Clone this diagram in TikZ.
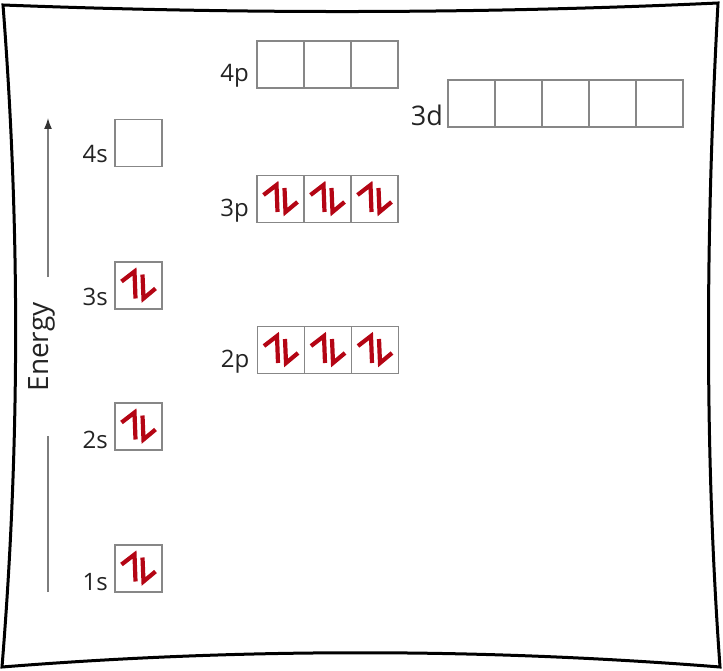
\documentclass[tikz,border=0pt]{standalone}
\usepackage{fontspec}
\setmainfont{Open Sans}
\usetikzlibrary{positioning,calc,arrows.meta}

\definecolor{boxgray}{RGB}{135,135,135}
\definecolor{axisgray}{RGB}{125,125,125}
\definecolor{spinred}{RGB}{180,5,20}
\definecolor{textgray}{RGB}{35,35,35}

\newcommand{\spinpair}[1]{
    \draw[spin,shift={(#1.center)}] (-17,-4) -- (-4,-14) -- (-3,13);
    \draw[spin,shift={(#1.center)}] (4,-11) -- (5,13) -- (17,3);
}

\begin{document}
\begin{tikzpicture}[x=1pt, y=-1pt]
        \tikzstyle{orbital}=[draw=boxgray,line width=1.5pt,minimum size=47pt,inner sep=0pt,outer sep=0pt]
        \tikzstyle{sublabel}=[text=textgray,inner sep=0pt,anchor=base east,font=\fontsize{24}{30}\selectfont]
        \tikzstyle{spin}=[draw=spinred,line width=4.2pt,line join=miter]
        \tikzstyle{axis}=[draw=axisgray,line width=1.5pt]

        \useasboundingbox (0,0) rectangle (723,671);
        \draw[line width=3pt] (3,5) .. controls (240,14) and (480,14) .. (718,3)
            .. controls (706,225) and (704,445) .. (720,667)
            .. controls (480,648) and (240,648) .. (2,667)
            .. controls (20,445) and (20,225) .. cycle;

        % s orbitals
        \node[orbital] (s1) at (138.5,568.5) {};
        \node[orbital] (s2) at (138.5,426.5) {};
        \node[orbital] (s3) at (138.5,285.5) {};
        \node[orbital] (s4) at (138.5,143) {};

        % p orbitals
        \node[orbital] (p2a) at (281,350) {};
        \node[orbital] (p2b) [right=0pt of p2a] {};
        \node[orbital] (p2c) [right=0pt of p2b] {};
        \node[orbital] (p3a) at (280.5,199) {};
        \node[orbital] (p3b) [right=0pt of p3a] {};
        \node[orbital] (p3c) [right=0pt of p3b] {};
        \node[orbital] (p4a) at (280.5,64.5) {};
        \node[orbital] (p4b) [right=0pt of p4a] {};
        \node[orbital] (p4c) [right=0pt of p4b] {};

        % d orbitals
        \node[orbital] (d3a) at (471.5,103.5) {};
        \node[orbital] (d3b) [right=0pt of d3a] {};
        \node[orbital] (d3c) [right=0pt of d3b] {};
        \node[orbital] (d3d) [right=0pt of d3c] {};
        \node[orbital] (d3e) [right=0pt of d3d] {};

        \node[sublabel] (l1s) at ($(s1.south west)+(-7,-2)$) {1s};
        \node[sublabel] (l2s) at ($(s2.south west)+(-7,-2)$) {2s};
        \node[sublabel] (l3s) at ($(s3.south west)+(-7,-4)$) {3s};
        \node[sublabel] (l4s) at ($(s4.south west)+(-7,-4)$) {4s};
        \node[sublabel] (l2p) at ($(p2a.south west)+(-8,-6)$) {2p};
        \node[sublabel] (l3p) at ($(p3a.south west)+(-8,-6)$) {3p};
        \node[sublabel] (l4p) at ($(p4a.south west)+(-8,-6)$) {4p};
        \node[sublabel,font=\fontsize{27}{32}\selectfont] (l3d) at ($(d3a.south west)+(-5,-1)$) {3d};

        \spinpair{s1}
        \spinpair{s2}
        \spinpair{s3}
        \spinpair{p2a}
        \spinpair{p2b}
        \spinpair{p2c}
        \spinpair{p3a}
        \spinpair{p3b}
        \spinpair{p3c}

        % energy axis
        \coordinate (e0) at (48,592);
        \coordinate (e1) at (48,436);
        \coordinate (e2) at (48,277);
        \coordinate (e3) at (48,118);
        \node[text=textgray,rotate=90,inner sep=0pt,font=\fontsize{28}{32}\selectfont] (energy) at (42,347) {Energy};
        \draw[axis] (e0) -- (e1);
        \draw[axis,-{Latex[length=11pt,width=8pt,color=black!80]}] (e2) -- (e3);
    \end{tikzpicture}
\end{document}
